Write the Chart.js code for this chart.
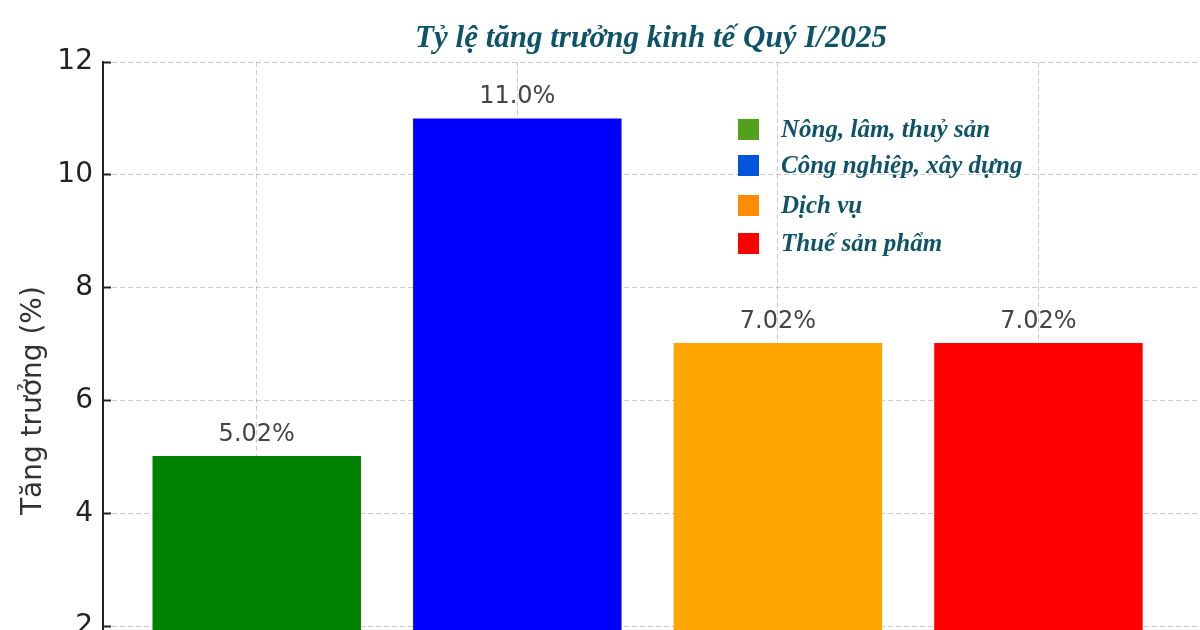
<!DOCTYPE html>
<html>
<head>
<meta charset="utf-8">
<script src="https://cdn.jsdelivr.net/npm/chart.js@4.4.1/dist/chart.umd.min.js"></script>
<style>
  html, body { margin: 0; padding: 0; background: #fff; overflow: hidden; }
  canvas { display: block; }
</style>
</head>
<body>
<canvas id="growth-chart" width="1200" height="774"></canvas>
<script>
const chartTitle = 'Tỷ lệ tăng trưởng kinh tế Quý I/2025';
const yAxisTitle = 'Tăng trưởng (%)';
const categories = ['Nông, lâm, thuỷ sản', 'Công nghiệp, xây dựng', 'Dịch vụ', 'Thuế sản phẩm'];
const growthValues = [5.02, 11.0, 7.02, 7.02];
const valueLabels = ['5.02%', '11.0%', '7.02%', '7.02%'];
const barColors = ['#008000', '#0000ff', '#ffa500', '#ff0000'];
const legendColors = ['#52a11d', '#0055dd', '#ff8c00', '#ff0000'];

const teal = '#0e5468';
const serif = '"Liberation Serif", "DejaVu Serif", serif';

// title, legend and the % labels above the bars
const overlay = {
  id: 'overlay',
  afterDraw(chart) {
    const ctx = chart.ctx;
    ctx.save();
    ctx.fillStyle = teal;
    ctx.font = 'italic bold 31px ' + serif;
    ctx.textAlign = 'center';
    ctx.textBaseline = 'alphabetic';
    ctx.fillText(chartTitle, 651, 47);

    // value labels
    const meta = chart.getDatasetMeta(0);
    ctx.fillStyle = '#444';
    ctx.font = '24px "DejaVu Sans"';
    meta.data.forEach((bar, i) => {
      ctx.fillText(valueLabels[i], bar.x, bar.y - 15);
    });

    // legend
    const rowBase = [137, 173, 213, 251];
    ctx.textAlign = 'left';
    ctx.font = 'italic bold 25px ' + serif;
    categories.forEach((name, i) => {
      ctx.fillStyle = legendColors[i];
      ctx.fillRect(738, rowBase[i] - 18, 21, 21);
      ctx.fillStyle = teal;
      ctx.fillText(name, 781, rowBase[i]);
    });
    ctx.restore();
  }
};

const ctx = document.getElementById('growth-chart').getContext('2d');
const chart = new Chart(ctx, {
  type: 'bar',
  data: {
    datasets: [{
      label: 'Tăng trưởng',
      data: categories.map((c, i) => ({ x: i, y: growthValues[i] })),
      backgroundColor: barColors,
      barPercentage: 0.8,
      categoryPercentage: 1.0
    }]
  },
  options: {
    responsive: false,
    animation: false,
    layout: { padding: { top: 62, right: 0, bottom: 22, left: 0 } },
    plugins: { legend: { display: false }, tooltip: { enabled: false } },
    scales: {
      x: {
        type: 'linear',
        min: -0.59,
        max: 3.62,
        offset: false,
        z: 1,
        ticks: { display: false, stepSize: 1, includeBounds: false },
        grid: { offset: false, color: 'rgba(150,150,150,0.5)', lineWidth: 1, drawTicks: false },
        border: { display: false, dash: [5, 3] },
        afterFit(scale) { scale.height = 0; }
      },
      y: {
        min: 0,
        max: 12,
        z: 1,
        ticks: {
          stepSize: 2,
          padding: 18,
          color: '#222',
          font: { family: '"DejaVu Sans"', size: 28 }
        },
        grid: {
          color: 'rgba(150,150,150,0.5)',
          lineWidth: 1,
          tickLength: -8,
          tickColor: '#222',
          tickWidth: 2
        },
        border: { display: true, color: '#222', width: 2, dash: [5, 3] },
        title: {
          display: true,
          text: yAxisTitle,
          color: '#333',
          font: { family: '"DejaVu Sans"', size: 28, weight: 'normal' },
          padding: { top: 17, bottom: 0 }
        },
        afterFit(scale) { scale.width = 103; }
      }
    }
  },
  plugins: [overlay]
});
</script>
</body>
</html>
